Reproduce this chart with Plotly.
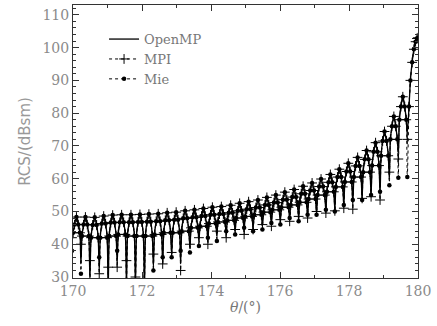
import plotly.graph_objects as go

# ---- data ----
peak_theta = [170.10, 170.36, 170.63, 170.89, 171.15, 171.41, 171.68, 171.94, 172.20, 172.47,
              172.73, 172.99, 173.25, 173.52, 173.78, 174.04, 174.30, 174.57, 174.83, 175.09,
              175.36, 175.62, 175.88, 176.14, 176.41, 176.67, 176.93, 177.19, 177.46, 177.72,
              177.98, 178.25, 178.51, 178.77, 179.03, 179.30, 179.56]
peak_rcs = [48.3, 48.3, 48.2, 48.6, 48.9, 49.0, 49.0, 49.1, 49.2, 49.3,
            49.6, 49.8, 50.2, 50.5, 50.9, 51.3, 51.5, 51.9, 52.5, 53.0,
            53.5, 54.3, 55.0, 55.9, 56.7, 57.7, 58.7, 59.9, 61.3, 62.9,
            64.7, 66.5, 68.6, 71.0, 74.4, 79.0, 85.0]
shoulder_rcs = [46.0, 46.0, 45.9, 46.3, 46.6, 46.7, 46.7, 46.8, 46.9, 47.0,
                47.3, 47.5, 47.9, 48.2, 48.6, 49.0, 49.2, 49.6, 50.2, 50.7,
                51.2, 52.0, 52.7, 53.6, 54.4, 55.4, 56.4, 57.6, 58.9, 60.5,
                62.2, 63.9, 65.9, 68.2, 71.5, 76.0, 82.0]
flank_rcs = [43.5, 42.5, 42.0, 42.0, 42.5, 43.0, 42.5, 42.5, 42.5, 43.0,
             43.5, 43.5, 44.0, 45.0, 45.5, 46.3, 46.8, 47.3, 48.0, 48.5,
             49.0, 49.8, 50.5, 51.3, 52.0, 52.8, 53.8, 55.0, 56.0, 57.5,
             59.0, 60.5, 62.0, 64.0, 67.0, 72.0, 78.0]
null_theta = [169.97, 170.23, 170.49, 170.76, 171.02, 171.28, 171.55, 171.81, 172.07, 172.33,
              172.60, 172.86, 173.12, 173.39, 173.65, 173.91, 174.17, 174.44, 174.70, 174.96,
              175.22, 175.49, 175.75, 176.01, 176.28, 176.54, 176.80, 177.06, 177.33, 177.59,
              177.85, 178.11, 178.38, 178.64, 178.90, 179.17, 179.43, 179.69]
openmp_null = [40, 34, 29, 32, 26, 34, 27, 27, 26, 33,
               34, 37, 34, 39, 41, 41, 42.5, 43, 44, 44,
               45, 45.5, 46, 47, 47.5, 48, 48.5, 49.5, 50, 50.5,
               51.5, 52, 54, 55, 55, 60, 68, 74]
mpi_null = [42, 40, 35, 31, 33, 33, 35, 30, 28, 37,
            34, 37.5, 32, 40, 42, 40, 44, 42, 44.5, 43,
            44.5, 46, 45.5, 47.5, 47, 48.5, 48, 50, 49.5, 50.2,
            51, 50.7, 54, 54.5, 53.5, 62, 66, 72]
mie_null = [38, 31, 28, 36, 27, 38, 26, 29, 27, 32,
            36, 36, 38, 37.5, 39.5, 42, 41, 44, 43, 45,
            44, 44.5, 46.5, 46, 48, 47, 49, 49, 50.5, 50,
            52, 53.5, 53.5, 55, 56, 58, 60.3, 60.5]
main_theta = [179.74, 179.78, 179.83, 179.88, 179.93, 179.97, 180.0]
main_rcs = [82, 90, 95.5, 99.5, 101.8, 102.8, 103.0]


def build(nulls):
    xs = [null_theta[0]]
    ys = [nulls[0]]
    for k in range(len(peak_theta)):
        a, p, b = null_theta[k], peak_theta[k], null_theta[k + 1]
        xs += [p - 0.77 * (p - a), p - 0.42 * (p - a), p,
               p + 0.42 * (b - p), p + 0.77 * (b - p), b]
        ys += [flank_rcs[k], shoulder_rcs[k], peak_rcs[k],
               shoulder_rcs[k], flank_rcs[k], nulls[k + 1]]
    xs += main_theta
    ys += main_rcs
    return xs, ys


fig = go.Figure()
x, y = build(openmp_null)
fig.add_trace(go.Scatter(x=x, y=y, mode="lines", name="OpenMP",
                         line=dict(color="black", width=1.3, shape="spline", smoothing=0.7)))
x, y = build(mpi_null)
fig.add_trace(go.Scatter(x=x, y=y, mode="lines+markers", name="MPI",
                         line=dict(color="black", width=1, dash="dot", shape="spline", smoothing=0.7),
                         marker=dict(symbol="cross-thin", size=7, color="black",
                                     line=dict(width=1, color="black"))))
x, y = build(mie_null)
fig.add_trace(go.Scatter(x=x, y=y, mode="lines+markers", name="Mie",
                         line=dict(color="black", width=1, dash="dot", shape="spline", smoothing=0.7),
                         marker=dict(symbol="circle", size=4.5, color="black")))

axis_font = dict(family="DejaVu Serif", size=14, color="#8a8a8a")
fig.update_layout(
    width=437, height=326,
    margin=dict(l=73, r=19, t=5, b=48),
    paper_bgcolor="white", plot_bgcolor="white",
    showlegend=True,
    legend=dict(x=0.09, y=0.93, xanchor="left", yanchor="top",
                bgcolor="rgba(0,0,0,0)", font=dict(family="DejaVu Serif", size=13, color="#777"),
                tracegroupgap=0, itemwidth=30),
)
fig.update_xaxes(range=[170, 180], dtick=2, tick0=170, ticks="inside", ticklen=6,
                 tickcolor="#333", showline=True, linecolor="#333", linewidth=1, mirror="allticks",
                 showgrid=False, zeroline=False, tickfont=axis_font,
                 minor=dict(dtick=1, ticks="inside", ticklen=3, tickcolor="#333"),
                 title=dict(text="<i>θ</i>/(°)", font=dict(family="DejaVu Serif", size=14, color="#777"),
                            standoff=4))
fig.update_yaxes(range=[29.7, 113], dtick=10, tick0=0, ticks="inside", ticklen=6,
                 tickcolor="#333", showline=True, linecolor="#333", linewidth=1, mirror="allticks",
                 showgrid=False, zeroline=False, tickfont=axis_font,
                 minor=dict(dtick=2, ticks="inside", ticklen=3, tickcolor="#333"),
                 title=dict(text="RCS/(dBsm)", font=dict(family="DejaVu Sans", size=15, color="#999"),
                            standoff=8))

fig.write_html("out.html", config={"displayModeBar": False},
               post_script="document.body.style.margin='0px';")
